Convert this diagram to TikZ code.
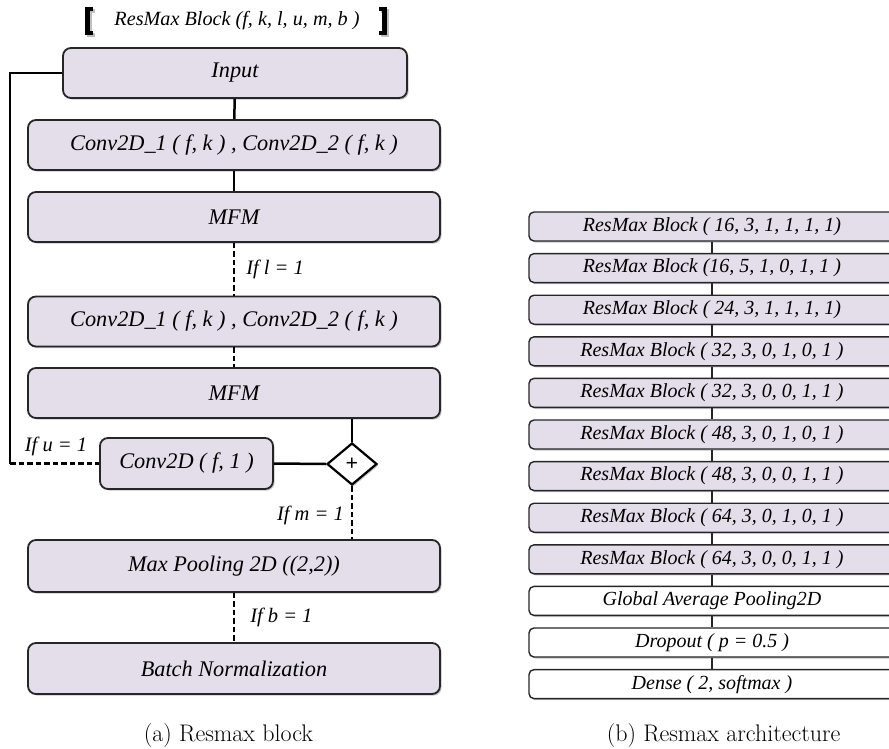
\documentclass[tikz,border=0pt]{standalone}
\usepackage{fontspec}
\newfontfamily\gara{Liberation Serif}
\usetikzlibrary{shapes.geometric,shadows}
\definecolor{boxfill}{RGB}{227,222,234}
\begin{document}
\begin{tikzpicture}[x=1pt,y=-1pt,
  shad/.style={drop shadow={shadow xshift=1.6pt,shadow yshift=-1.6pt,opacity=0.45}},
  lbox/.style={draw=black!85, line width=1.8pt, rounded corners=8pt, fill=boxfill,
    minimum height=50pt, inner sep=0pt, shad,
    font=\gara\itshape\fontsize{22.3}{26}\selectfont},
  rbox/.style={draw=black!85, line width=1.4pt, rounded corners=5pt, fill=boxfill,
    minimum width=366pt, minimum height=29pt, inner sep=0pt, shad,
    font=\gara\itshape\fontsize{20}{23}\selectfont},
  wbox/.style={rbox, fill=white},
  lab/.style={font=\gara\itshape\fontsize{20.5}{24}\selectfont, inner sep=0pt},
  conn/.style={line width=2.5pt, black},
  dconn/.style={conn, dash pattern=on 5.5pt off 3pt},
  bracketstyle/.style={line width=4.5pt, line cap=butt},
  bracketshadow/.style={line width=4.5pt, line cap=butt, black!25},
  captionstyle/.style={font=\fontsize{24}{28}\selectfont, inner sep=0pt}
]
\clip (0,0) rectangle (889,749);
\fill[white] (0,0) rectangle (889,749);

% ---------- left panel ----------
\node[font=\gara\itshape\fontsize{20.2}{24}\selectfont, inner sep=0pt] (title) at (237,21) {ResMax Block (f, k, l, u, m, b )};
\draw[bracketshadow] (94.5,11) -- (89.5,11) -- (89.5,35) -- (94.5,35);
\draw[bracketshadow] (380.5,11) -- (386.5,11) -- (386.5,35) -- (380.5,35);
\draw[bracketstyle] (93,9) -- (87.5,9) -- (87.5,33) -- (93,33);
\draw[bracketstyle] (379,9) -- (384.5,9) -- (384.5,33) -- (379,33);

\node[lbox, minimum width=344pt] (input) at (235,73) {Input};
\node[lbox, minimum width=412pt] (conv1) at (234,145) {Conv2D\_1 ( f, k ) , Conv2D\_2 ( f, k )};
\node[lbox, minimum width=412pt] (mfm1) at (234,217) {MFM};
\node[lbox, minimum width=412pt] (conv2) at (234,321.5) {Conv2D\_1 ( f, k ) , Conv2D\_2 ( f, k )};
\node[lbox, minimum width=412pt] (mfm2) at (234,393) {MFM};
\node[lbox, minimum width=173pt, minimum height=51pt] (conv3) at (186.5,463.5) {Conv2D ( f, 1 )};
\node[diamond, draw=black, line width=2.2pt, fill=white, minimum width=50pt, minimum height=42pt, inner sep=0pt, aspect=1.2, shad, font=\gara\bfseries\fontsize{22}{24}\selectfont] (add) at (352,464) {+};
\node[lbox, minimum width=412pt, minimum height=52pt] (pool) at (234,566) {Max Pooling 2D ((2,2))};
\node[lbox, minimum width=412pt, minimum height=51pt] (bn) at (234,668.5) {Batch Normalization};

\coordinate (skx) at (10,0);
\coordinate (sk1) at (input.west -| skx);
\coordinate (sk2) at (conv3.west -| skx);

\draw[conn] (input) -- (conv1);
\draw[conn] (conv1) -- (mfm1);
\draw[dconn] (mfm1) -- node[lab, right=11pt] {If l = 1} (conv2);
\draw[dconn] (conv2) -- (mfm2);
\draw[conn] (mfm2.south -| add) -- (add.north);
\draw[conn] (conv3.east) -- (add.west);
\draw[conn] (input.west) -- (sk1) -- (sk2);
\draw[dconn] (sk2) -- (conv3.west);
\node[lab] at (56,446) {If u = 1};
\draw[dconn] (add.south) -- (pool.north -| add);
\node[lab, anchor=east] at (344,515) {If m = 1};
\draw[dconn] (pool) -- node[lab, right=15pt] {If b = 1} (bn);

\node[captionstyle, anchor=base] (capa) at (228.5,741) {(a) Resmax block};

% ---------- right panel ----------
\node[rbox] (r1) at (712,226.5) {ResMax Block ( 16, 3, 1, 1, 1, 1)};
\node[rbox] (r2) at (712,268.1) {ResMax Block (16, 5, 1, 0, 1, 1 )};
\node[rbox] (r3) at (712,309.7) {ResMax Block ( 24, 3, 1, 1, 1, 1)};
\node[rbox] (r4) at (712,351.3) {ResMax Block ( 32, 3, 0, 1, 0, 1 )};
\node[rbox] (r5) at (712,392.9) {ResMax Block ( 32, 3, 0, 0, 1, 1 )};
\node[rbox] (r6) at (712,434.5) {ResMax Block ( 48, 3, 0, 1, 0, 1 )};
\node[rbox] (r7) at (712,476.1) {ResMax Block ( 48, 3, 0, 0, 1, 1 )};
\node[rbox] (r8) at (712,517.7) {ResMax Block ( 64, 3, 0, 1, 0, 1 )};
\node[rbox] (r9) at (712,559.3) {ResMax Block ( 64, 3, 0, 0, 1, 1 )};
\node[wbox] (r10) at (712,600.9) {Global Average Pooling2D};
\node[wbox] (r11) at (712,642.5) {Dropout ( p = 0.5 )};
\node[wbox] (r12) at (712,684.1) {Dense ( 2, softmax )};
\foreach \a/\b in {r1/r2,r2/r3,r3/r4,r4/r5,r5/r6,r6/r7,r7/r8,r8/r9,r9/r10,r10/r11,r11/r12}
  \draw[line width=1.8pt, black!85] (\a) -- (\b);

\node[captionstyle, anchor=base] (capb) at (723.5,741) {(b) Resmax architecture};
\end{tikzpicture}
\end{document}
